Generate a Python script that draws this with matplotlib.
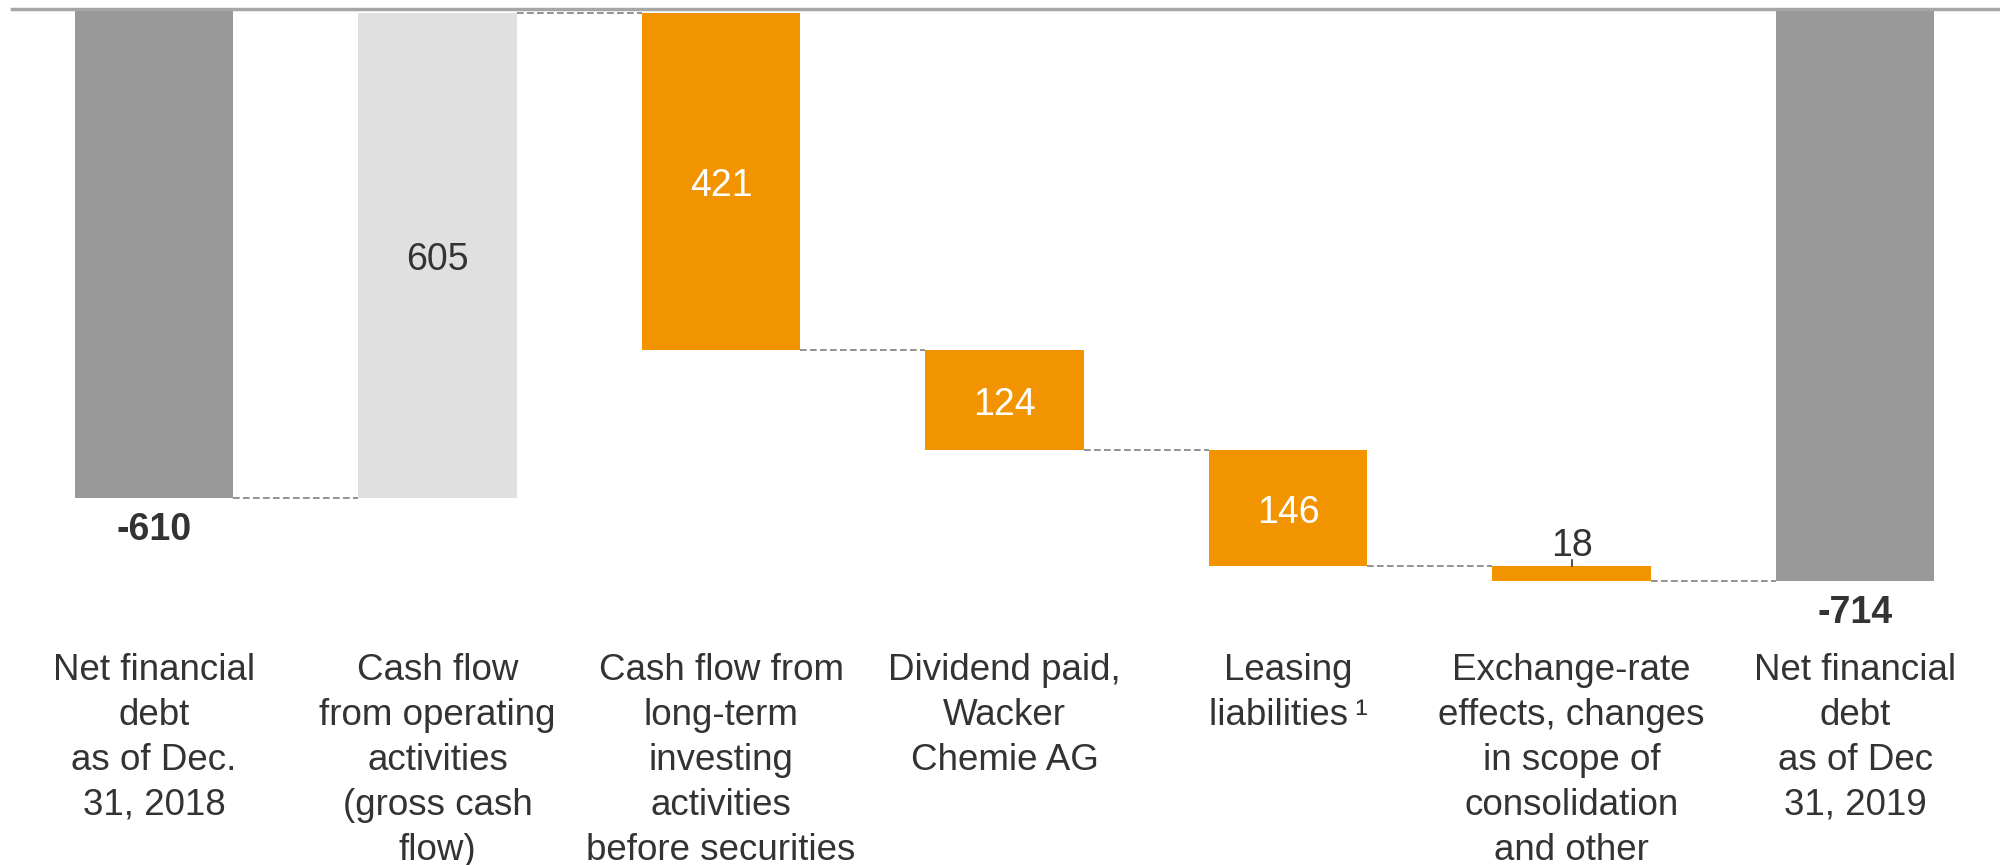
import matplotlib
matplotlib.use('Agg')
import matplotlib.pyplot as plt

# Daten (Mio. EUR)
categories = [
    "Net financial\ndebt\nas of Dec.\n31, 2018",
    "Cash flow\nfrom operating\nactivities\n(gross cash\nflow)",
    "Cash flow from\nlong-term\ninvesting\nactivities\nbefore securities",
    "Dividend paid,\nWacker\nChemie AG",
    "Leasing\nliabilities\u2009\u00b9",
    "Exchange-rate\neffects, changes\nin scope of\nconsolidation\nand other",
    "Net financial\ndebt\nas of Dec\n31, 2019",
]
values = [-610, 605, -421, -124, -146, -18, -714]
is_total = [True, False, False, False, False, False, True]

DARK = '#999999'
LIGHT = '#e0e0e0'
ORANGE = '#f29400'
TEXT = '#333333'

plt.rcParams['font.family'] = ['Liberation Sans', 'DejaVu Sans']

fig = plt.figure(figsize=(20, 8.65), dpi=100)
ax = fig.add_axes([0, 0, 1, 1])
ax.set_xlim(-0.543, 6.511)
ax.set_ylim(-1068.7, 11.2)
ax.axis('off')

width = 0.558
running = 0
levels = []
for i, v in enumerate(values):
    if is_total[i]:
        bottom, top = v, 0
        running = v
        color = DARK
    else:
        start = running
        running = running + v
        bottom, top = min(start, running), max(start, running)
        color = LIGHT if v > 0 else ORANGE
    ax.bar(i, top - bottom, bottom=bottom, width=width, color=color, zorder=2)
    levels.append((bottom, top, running))

    mid = (bottom + top) / 2
    if is_total[i]:
        ax.text(i, bottom - 53, f"{v}", ha='center', va='baseline',
                fontsize=27, fontweight='bold', color=TEXT)
    elif abs(v) < 50:
        ax.plot([i, i], [top, top + 8], color=TEXT, lw=1.2, zorder=3)
        ax.text(i, top + 25, f"{abs(v)}", ha='center', va='center',
                fontsize=27, color=TEXT)
    else:
        ax.text(i, mid - 6, f"{abs(v)}", ha='center', va='center', fontsize=27,
                color=TEXT if v > 0 else 'white')

# Verbindungslinien
for i in range(len(values) - 1):
    y = levels[i][2]
    ax.plot([i + width / 2, i + 1 - width / 2], [y, y], color='#808080',
            lw=1.2, ls=(0, (4, 2)), zorder=1)

# Nulllinie oben
ax.axhline(0, xmin=0.006, color='#a6a6a6', lw=2.5, zorder=3)

# Kategorien
for i, lab in enumerate(categories):
    ax.text(i, -804, lab, ha='center', va='top', fontsize=26.5, color=TEXT,
            linespacing=1.37)

plt.savefig('out.png', dpi=100)
